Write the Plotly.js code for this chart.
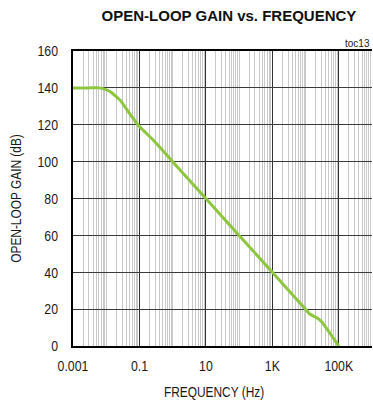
<!DOCTYPE html>
<html>
<head>
<meta charset="utf-8">
<script src="https://cdn.plot.ly/plotly-3.0.1.min.js"></script>
<style>
  html, body { margin: 0; padding: 0; background: #fff; }
  #chart { width: 373px; height: 406px; }
</style>
</head>
<body>
<div id="chart"></div>
<script>
// Open-loop gain (dB) against frequency (Hz)
const frequencyHz = [0.001, 0.003, 0.006, 0.008, 0.013, 0.026, 0.05, 0.1, 0.26, 1, 10, 100, 1000, 10000, 13000, 23000, 31000, 100000];
const gainDb      = [140,   140,   140,   139.6, 138,   133.4, 126.2, 119, 111.7, 100, 80, 60,  40,   20,    17.5,  15,    13,    0];

// Axis labelling
const xTickVals  = [0.001, 0.1, 10, 1000, 100000];
const xTickText  = ['0.001', '0.1', '10', '1K', '100K'];
const yTickVals  = [0, 20, 40, 60, 80, 100, 120, 140, 160];

// Light log grid: 1..9 in every decade from 10^-3 to 10^6
const minorGrid = [];
for (let e = -3; e < 6; e++) {
  for (let m = 1; m <= 9; m++) minorGrid.push(m * Math.pow(10, e));
}

const font = 'Liberation Sans, Arial, sans-serif';
const ink = '#1a1a1a';

const trace = {
  x: frequencyHz,
  y: gainDb,
  type: 'scatter',
  mode: 'lines',
  line: { color: '#8DC63F', width: 3, shape: 'spline', smoothing: 0.4 },
  hoverinfo: 'skip'
};

const layout = {
  width: 373,
  height: 406,
  margin: { l: 73, r: 1, t: 51, b: 60 },
  paper_bgcolor: '#fff',
  plot_bgcolor: '#fff',
  showlegend: false,
  font: { family: font, size: 15, color: ink },
  title: {
    text: 'OPEN-LOOP GAIN vs. FREQUENCY',
    font: { family: font, size: 15, weight: 'bold', color: '#111' },
    xref: 'container', x: 229 / 373, xanchor: 'center',
    yref: 'container', y: 1 - 16 / 406, yanchor: 'middle'
  },
  xaxis: {
    type: 'log',
    range: [-3, 6],
    tickmode: 'array',
    tickvals: xTickVals,
    ticktext: xTickText,
    ticks: 'outside',
    ticklen: 5,
    tickcolor: 'rgba(0,0,0,0)',
    showgrid: true,
    gridcolor: '#333',
    gridwidth: 1.2,
    showline: true,
    linecolor: '#000',
    linewidth: 2,
    mirror: true,
    zeroline: false,
    tickfont: { family: font, size: 15, color: ink },
    minor: { tickmode: 'array', tickvals: minorGrid, showgrid: true, gridcolor: '#c9c9c9', gridwidth: 1, ticks: '' }
  },
  yaxis: {
    range: [0, 160],
    tickmode: 'array',
    tickvals: yTickVals,
    ticks: 'outside',
    ticklen: 10,
    tickcolor: 'rgba(0,0,0,0)',
    showgrid: true,
    gridcolor: '#3a3a3a',
    gridwidth: 1.2,
    showline: true,
    linecolor: '#000',
    linewidth: 2,
    zeroline: false,
    tickfont: { family: font, size: 15, color: ink },
    title: { text: 'OPEN-LOOP GAIN (dB)', font: { family: font, size: 14.5, color: ink }, standoff: 8 }
  },
  annotations: [
    {
      text: 'FREQUENCY (Hz)',
      xref: 'paper', yref: 'paper',
      x: (214 - 73) / 299, y: (346 - 392) / 295,
      xanchor: 'center', yanchor: 'middle',
      showarrow: false,
      font: { family: font, size: 14.5, color: ink }
    },
    {
      text: 'toc13',
      xref: 'paper', yref: 'paper',
      x: 1, y: 1,
      xanchor: 'right', yanchor: 'bottom',
      showarrow: false,
      font: { family: font, size: 10, color: '#222' }
    }
  ]
};

// Axis text is set in a narrow face: squeeze the glyphs to narrow proportions
function narrowText(gd) {
  const sel = '.xtick text, .ytick text, .ytitle, .annotation-text';
  gd.querySelectorAll(sel).forEach(t => {
    if (t.textContent === 'toc13') return;
    const w = t.getComputedTextLength();
    t.setAttribute('textLength', (w * 0.82).toFixed(2));
    t.setAttribute('lengthAdjust', 'spacingAndGlyphs');
  });
}

Plotly.newPlot('chart', [trace], layout, { staticPlot: true, displayModeBar: false })
  .then(narrowText);
</script>
</body>
</html>
